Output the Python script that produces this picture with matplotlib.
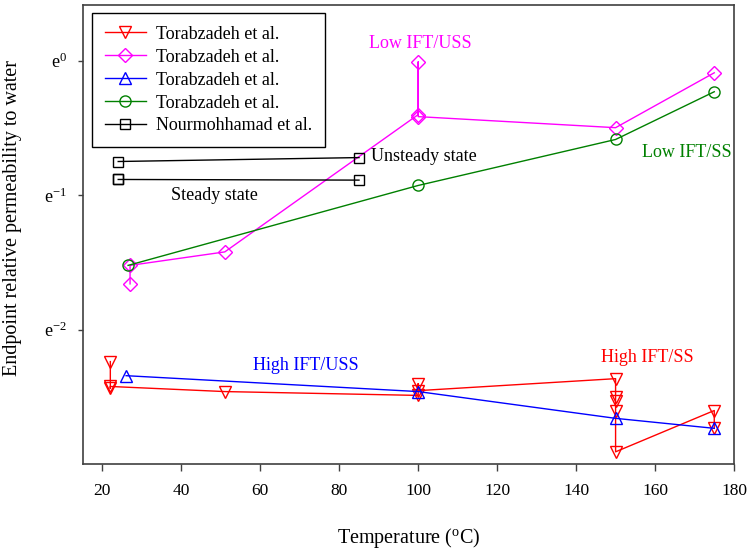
import numpy as np
import matplotlib
matplotlib.use("Agg")
import matplotlib.pyplot as plt

plt.rcParams["font.family"] = ["Liberation Serif", "DejaVu Serif"]
plt.rcParams["mathtext.default"] = "regular"

# ── Data (kr values, plotted on a natural-log axis) ──
red_T  = [22, 22, 22, 51, 100, 100, 100, 150, 150, 150, 150, 150, 175, 175]
red_kr = [0.1066, 0.0873, 0.0886, 0.0853, 0.0829, 0.0905, 0.0859,
          0.0939, 0.0822, 0.0798, 0.0741, 0.0545, 0.0741, 0.0649]

mag_T  = [27, 27, 51, 100, 100, 100, 150, 175]
mag_kr = [0.190, 0.218, 0.241, 0.669, 0.990, 0.659, 0.607, 0.913]

blue_T  = [26, 100, 150, 175]
blue_kr = [0.0960, 0.0853, 0.0699, 0.0649]

green_T  = [26.5, 100, 150, 175]
green_kr = [0.218, 0.395, 0.556, 0.793]

# two separate segments (steady / unsteady), broken with NaN
black_T  = [24, 85, np.nan, 24, 24, 85]
black_kr = [0.472, 0.486, np.nan, 0.413, 0.413, 0.411]

LABELS = ["Torabzadeh et al.", "Torabzadeh et al.", "Torabzadeh et al.",
          "Torabzadeh et al.", "Nourmohhamad et al."]

# ── Figure ───────────────────────────────────────────────────────────────────
fig = plt.figure(figsize=(7.47, 5.5), dpi=100)
ax = fig.add_axes([0.1107, 0.1564, 0.8719, 0.8345])

ms = 8.5
lw = 1.0
ax.plot(red_T, red_kr, color="#FF0000", lw=lw, marker="v", ms=ms,
        mfc="none", mec="#FF0000", mew=1.0, label=LABELS[0])
ax.plot(mag_T, mag_kr, color="#FF00FF", lw=lw, marker="D", ms=ms - 1.5,
        mfc="none", mec="#FF00FF", mew=1.0, label=LABELS[1])
ax.plot(blue_T, blue_kr, color="#0000FF", lw=lw, marker="^", ms=ms,
        mfc="none", mec="#0000FF", mew=1.0, label=LABELS[2])
ax.plot(green_T, green_kr, color="#008000", lw=lw, marker="o", ms=ms - 0.5,
        mfc="none", mec="#008000", mew=1.0, label=LABELS[3])
ax.plot(black_T, black_kr, color="black", lw=lw, marker="s", ms=ms - 1,
        mfc="none", mec="black", mew=1.0, label=LABELS[4])

ax.set_yscale("log", base=np.e)
ax.set_xlim(15, 180)
ax.set_ylim(np.exp(-3.0), np.exp(0.413))
ax.set_yticks([np.exp(-2), np.exp(-1), np.exp(0)])
ax.set_yticklabels(["e$^{-2}$", "e$^{-1}$", "e$^{0}$"])
ax.yaxis.set_minor_locator(matplotlib.ticker.NullLocator())
ax.set_xticks(np.arange(20, 181, 20))

ax.tick_params(axis="x", direction="out", length=5, width=1, labelsize=12.5,
               pad=9, color="#404040")
ax.tick_params(axis="y", direction="out", length=3.6, width=1, labelsize=13,
               pad=8, color="#404040")
for sp in ax.spines.values():
    sp.set_color("#404040")
    sp.set_linewidth(1.2)

ax.set_xlabel("Temperature ($^{o}$C)", fontsize=14.5, labelpad=19)
ax.set_ylabel("Endpoint relative permeability to water", fontsize=14.5)
ax.yaxis.set_label_coords(-0.093, 0.536)

# ── Annotations ──────────────────────────────────────────────────────────────
fs = 13
ax.text(100.5, np.exp(0.125), "Low IFT/USS", color="#FF00FF", fontsize=fs,
        ha="center", va="center")
ax.text(88, np.exp(-0.715), "Unsteady state", color="black", fontsize=fs,
        ha="left", va="center")
ax.text(48.5, np.exp(-1.0), "Steady state", color="black", fontsize=fs,
        ha="center", va="center")
ax.text(168, np.exp(-0.685), "Low IFT/SS", color="#008000", fontsize=fs,
        ha="center", va="center")
ax.text(71.5, np.exp(-2.265), "High IFT/USS", color="#0000FF", fontsize=fs,
        ha="center", va="center")
ax.text(158, np.exp(-2.205), "High IFT/SS", color="#FF0000", fontsize=fs,
        ha="center", va="center")

leg = ax.legend(loc="upper left", bbox_to_anchor=(0.0143, 0.9826),
                borderaxespad=0, fontsize=13, frameon=True, fancybox=False,
                edgecolor="black", framealpha=1, handlelength=2.3,
                handletextpad=0.55, labelspacing=0.33, borderpad=0.7)
leg.get_frame().set_linewidth(1.0)

fig.savefig("out.png", dpi=100)
